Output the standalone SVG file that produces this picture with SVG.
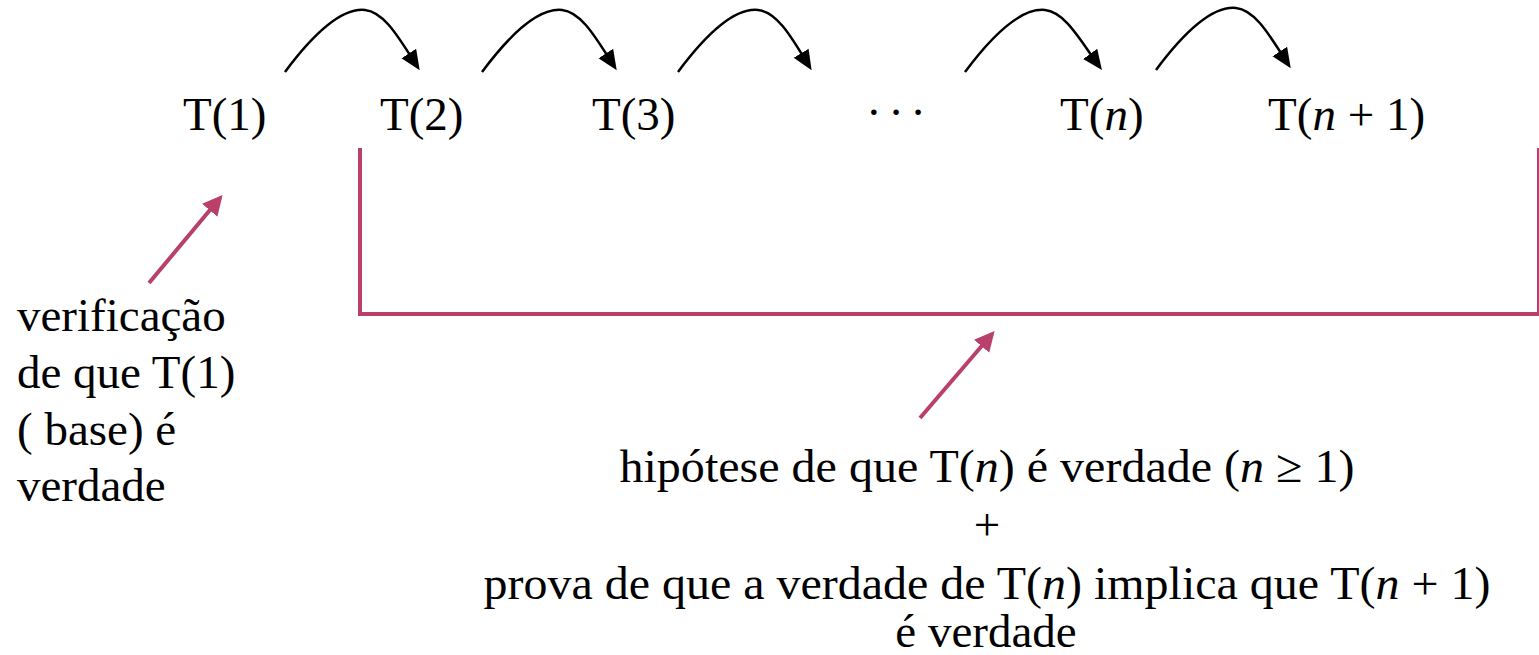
<svg xmlns="http://www.w3.org/2000/svg" width="1539" height="655" viewBox="0 0 1539 655">
<style>
text{font-family:"Liberation Serif","Times New Roman",serif;font-size:47px;fill:#000}
.i{font-style:italic}
.c{text-anchor:middle}
.arc{fill:none;stroke:#000;stroke-width:2.5;marker-end:url(#ah)}
.pk{fill:none;stroke:#b9406a;stroke-width:4}
.pa{fill:none;stroke:#b9406a;stroke-width:4;marker-end:url(#ph)}
</style>
<defs>
<marker id="ah" markerWidth="9" markerHeight="8" refX="6" refY="3.5" orient="auto" markerUnits="strokeWidth" viewBox="0 0 9 7">
<path d="M0,0 L8,3.5 L0,7 Z" fill="#000"/>
</marker>
<marker id="ph" markerWidth="6" markerHeight="6" refX="4" refY="2.5" orient="auto" markerUnits="strokeWidth" viewBox="0 0 6 5">
<path d="M0,0 L5,2.5 L0,5 Z" fill="#b9406a"/>
</marker>
</defs>
<g id="n1"><text x="183" y="130">T(1)</text></g>
<g id="n2"><text x="380" y="130">T(2)</text></g>
<g id="n3"><text x="592" y="130">T(3)</text></g>
<g id="ndots"><text x="866" y="128" textLength="60" lengthAdjust="spacing">· · ·</text></g>
<g id="nn"><text x="1060" y="130">T(<tspan class="i">n</tspan>)</text></g>
<g id="nn1"><text x="1268" y="130">T(<tspan class="i">n</tspan> + 1)</text></g>
<g id="base">
<text x="17" y="331">verificação</text>
<text x="17" y="388">de que T(1)</text>
<text x="17" y="445">( base) é</text>
<text x="17" y="501">verdade</text>
</g>
<g id="step">
<text class="c" x="987" y="482" textLength="735" lengthAdjust="spacingAndGlyphs">hipótese de que T(<tspan class="i">n</tspan>) é verdade (<tspan class="i">n</tspan> ≥ 1)</text>
<text class="c" x="987" y="540">+</text>
<text class="c" x="987" y="599" textLength="1007" lengthAdjust="spacingAndGlyphs">prova de que a verdade de T(<tspan class="i">n</tspan>) implica que T(<tspan class="i">n</tspan> + 1)</text>
<text class="c" x="986" y="647">é verdade</text>
</g>
<g id="connectors">
<path class="arc" d="M285,72 C320,25 345,8 365,10 C385,12 400,40 417,66"/>
<path class="arc" d="M482,72 C517,25 542,8 562,10 C582,12 597,40 614,66"/>
<path class="arc" d="M678,72 C713,25 738,8 758,10 C778,12 793,40 809,66"/>
<path class="arc" d="M965,72 C1000,25 1025,8 1045,10 C1065,12 1080,40 1099,66"/>
<path class="arc" d="M1156,70 C1191,23 1216,6 1236,8 C1256,10 1271,38 1288,64"/>
<path class="pk" d="M360,148 V314 H1539"/>
<path d="M1538,148 V316" fill="none" stroke="#b9406a" stroke-width="2"/>
<path class="pa" d="M149,283 L220,198"/>
<path class="pa" d="M920,418 L992,334"/>
</g>
</svg>
